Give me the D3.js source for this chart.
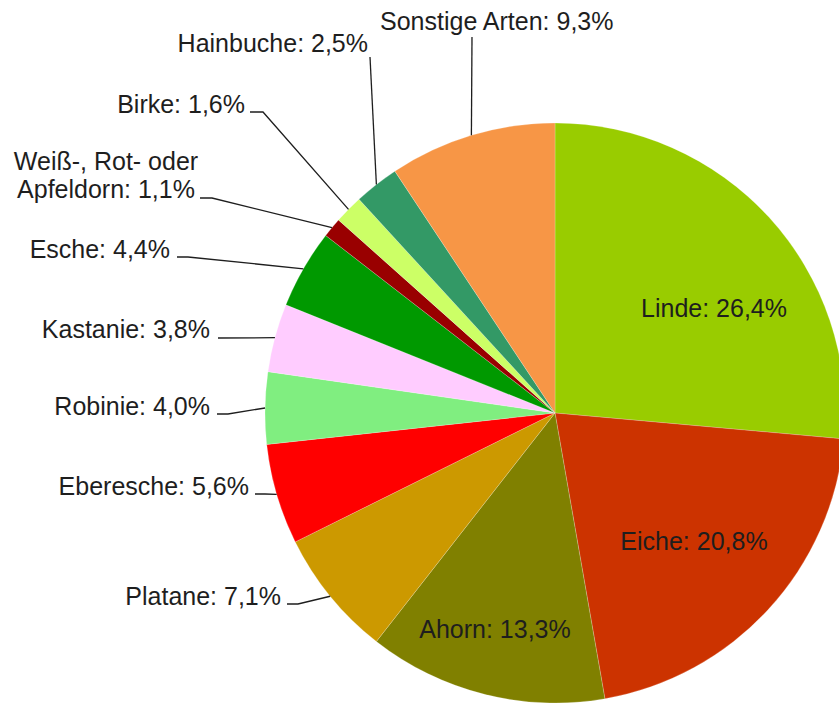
<!DOCTYPE html>
<html>
<head>
<meta charset="utf-8">
<script src="https://cdn.jsdelivr.net/npm/d3@7"></script>
<style>
  html, body { margin: 0; padding: 0; background: #fff; }
  svg { display: block; }
  text { font-family: "Liberation Sans", Arial, sans-serif; font-size: 25px; fill: #1e1e1e; }
</style>
</head>
<body>
<svg id="chart" width="839" height="706"></svg>
<script>
// Tree species share of the urban stock (percent), clockwise from 12 o'clock
const categories = ["Linde", "Eiche", "Ahorn", "Platane", "Eberesche", "Robinie",
  "Kastanie", "Esche", "Weiß-, Rot- oder\nApfeldorn", "Birke", "Hainbuche", "Sonstige Arten"];
const shares = [26.4, 20.8, 13.3, 7.1, 5.6, 4.0, 3.8, 4.4, 1.1, 1.6, 2.5, 9.3];
const colors = ["#99cc00", "#cc3300", "#808000", "#cc9900", "#ff0000", "#80ee80",
  "#ffccff", "#009900", "#990000", "#ccff66", "#339966", "#f79646"];

// Label placement: "inside" labels sit on the slice, the others get a leader line
const labelLayout = {
  "Linde":          { inside: true, x: 714, y: 317 },
  "Eiche":          { inside: true, x: 694, y: 550 },
  "Ahorn":          { inside: true, x: 495, y: 638 },
  "Platane":        { x: 281, y: 605, anchor: "end",    from: [287, 604], stub: 11 },
  "Eberesche":      { x: 249, y: 495, anchor: "end",    from: [255, 494], stub: 10 },
  "Robinie":        { x: 210, y: 415, anchor: "end",    from: [217, 414], stub: 11 },
  "Kastanie":       { x: 210, y: 338, anchor: "end",    from: [218, 338], stub: 0 },
  "Esche":          { x: 170, y: 258, anchor: "end",    from: [177, 257], stub: 11 },
  "Weiß-, Rot- oder\nApfeldorn": { x: 106, y: 170, anchor: "middle", from: [200, 198], stub: 12, lineGap: 28 },
  "Birke":          { x: 245, y: 113, anchor: "end",    from: [250, 112], stub: 13 },
  "Hainbuche":      { x: 368, y: 52,  anchor: "end",    from: [370, 57],  stub: 0 },
  "Sonstige Arten": { x: 380, y: 30,  anchor: "start",  from: [472, 37],  stub: 0 }
};

const width = 839, height = 706;
const cx = 555, cy = 413, radius = 290;

const data = categories.map((name, i) => ({ name, value: shares[i], color: colors[i] }));

const pie = d3.pie().sort(null).value(d => d.value).startAngle(0).endAngle(2 * Math.PI);
const arc = d3.arc().innerRadius(0).outerRadius(radius);
const arcs = pie(data);

const fmt = v => v.toFixed(1).replace(".", ",") + "%";

const svg = d3.select("#chart");
const g = svg.append("g").attr("transform", `translate(${cx},${cy})`);

g.selectAll("path.slice")
  .data(arcs)
  .join("path")
  .attr("class", "slice")
  .attr("d", arc)
  .attr("fill", d => d.data.color)
  .attr("stroke", "#ffffff")
  .attr("stroke-opacity", 0.35)
  .attr("stroke-width", 0.6);

// point on the rim at the slice's middle angle, in page coordinates
function rimPoint(d) {
  const a = (d.startAngle + d.endAngle) / 2;
  return [cx + radius * Math.sin(a), cy - radius * Math.cos(a)];
}

const labels = svg.append("g");

arcs.forEach(d => {
  const lay = labelLayout[d.data.name];
  const lines = (d.data.name + ": " + fmt(d.data.value)).split("\n");
  if (!lay.inside) {
    const p = rimPoint(d);
    const pts = [lay.from, [lay.from[0] + lay.stub, lay.from[1]], p];
    labels.append("path")
      .attr("d", d3.line()(pts))
      .attr("fill", "none")
      .attr("stroke", "#1e1e1e")
      .attr("stroke-width", 1.3);
  }
  const t = labels.append("text")
    .attr("x", lay.x)
    .attr("y", lay.y)
    .attr("text-anchor", lay.anchor || "middle");
  lines.forEach((ln, i) => {
    t.append("tspan")
      .attr("x", lay.x)
      .attr("dy", i === 0 ? 0 : lay.lineGap)
      .text(ln);
  });
});
</script>
</body>
</html>
